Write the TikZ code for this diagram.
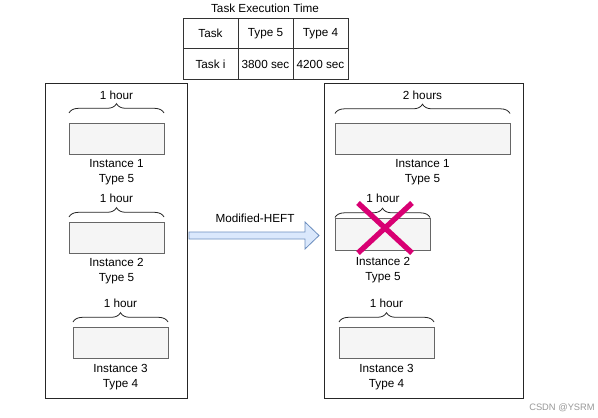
\documentclass[tikz,border=0pt]{standalone}
\usepackage{fontspec}
\setmainfont{Liberation Sans}
\usetikzlibrary{decorations.pathreplacing,calc}
\definecolor{boxfill}{HTML}{F5F5F5}
\definecolor{boxline}{HTML}{666666}
\definecolor{arrowfill}{HTML}{DAE8FC}
\definecolor{arrowline}{HTML}{6C8EBF}
\definecolor{crossc}{HTML}{D80073}
\begin{document}
\begin{tikzpicture}[x=0.75pt,y=-0.75pt,
  lbl/.style={font=\fontsize{8.8}{11.25}\selectfont, inner sep=0pt, align=center},
  cellbox/.style={draw=black!80, line width=0.6pt, fill=white, minimum width=55*0.75pt, minimum height=30.5*0.75pt, inner sep=0pt, font=\fontsize{8.8}{10}\selectfont},
  panel/.style={draw=black!85, line width=0.6pt, fill=white},
  inst/.style={draw=boxline, line width=0.6pt, fill=boxfill},
  brc/.style={draw=black!85, line width=0.6pt, decorate, decoration={brace, amplitude=7pt}},
  crossline/.style={draw=crossc, line width=4pt}]
\useasboundingbox (0,0) rectangle (598,417);
\fill[white] (0,0) rectangle (598,417);

% table
\node[lbl] (ttitle) at (265,8) {Task Execution Time};
\node[cellbox] (c11) at (210.5,33.5) {Task};
\node[cellbox] (c12) at (265.5,33.5) {Type 5};
\node[cellbox] (c13) at (320.5,33.5) {Type 4};
\node[cellbox] (c21) at (210.5,64) {Task i};
\node[cellbox] (c22) at (265.5,64) {3800 sec};
\node[cellbox] (c23) at (320.5,64) {4200 sec};

% panels
\draw[panel] (45,83) rectangle (187,398);
\draw[panel] (324,83) rectangle (523,398);

% left instances
\draw[inst] (69,123) rectangle (164,154);
\draw[brc] (69,113) -- (164,113);
\node[lbl] (l1h) at (116.5,95) {1 hour};
\node[lbl] (l1) at (116.5,172.5) {Instance 1\\Type 5};

\draw[inst] (69,222) rectangle (164,253);
\draw[brc] (69,217) -- (164,217);
\node[lbl] (l2h) at (116.5,198) {1 hour};
\node[lbl] (l2) at (116.5,271) {Instance 2\\Type 5};

\draw[inst] (73,327) rectangle (168,358);
\draw[brc] (73,322) -- (168,322);
\node[lbl] (l3h) at (120.5,303) {1 hour};
\node[lbl] (l3) at (120.5,377) {Instance 3\\Type 4};

% right instances
\draw[inst] (335,123) rectangle (510,154);
\draw[brc] (335,113.5) -- (510,113.5);
\node[lbl] (r1h) at (422.5,95) {2 hours};
\node[lbl] (r1) at (422.5,172.5) {Instance 1\\Type 5};

\draw[inst] (335,218) rectangle (430,250);
\draw[brc] (335,217.5) -- (430,217.5);
\node[lbl] (r2h) at (383,198) {1 hour};
\node[lbl] (r2) at (383,270) {Instance 2\\Type 5};
\draw[crossline] (358,203) -- (412,253);
\draw[crossline] (412,203) -- (358,253);

\draw[inst] (339,327) rectangle (434,358);
\draw[brc] (339,322) -- (434,322);
\node[lbl] (r3h) at (386.5,303) {1 hour};
\node[lbl] (r3) at (386.5,377) {Instance 3\\Type 4};

% block arrow
\draw[draw=arrowline, fill=arrowfill, line width=0.6pt, line join=miter]
  (189,232) -- (305,232) -- (305,222) -- (319,235.5) -- (305,249) -- (305,239) -- (189,239) -- cycle;
\node[lbl] (alg) at (255,218) {Modified-HEFT};

% watermark
\node[lbl, text=black!40, font=\fontsize{7}{8}\selectfont] (wm) at (562,408) {CSDN @YSRM};
\end{tikzpicture}
\end{document}
